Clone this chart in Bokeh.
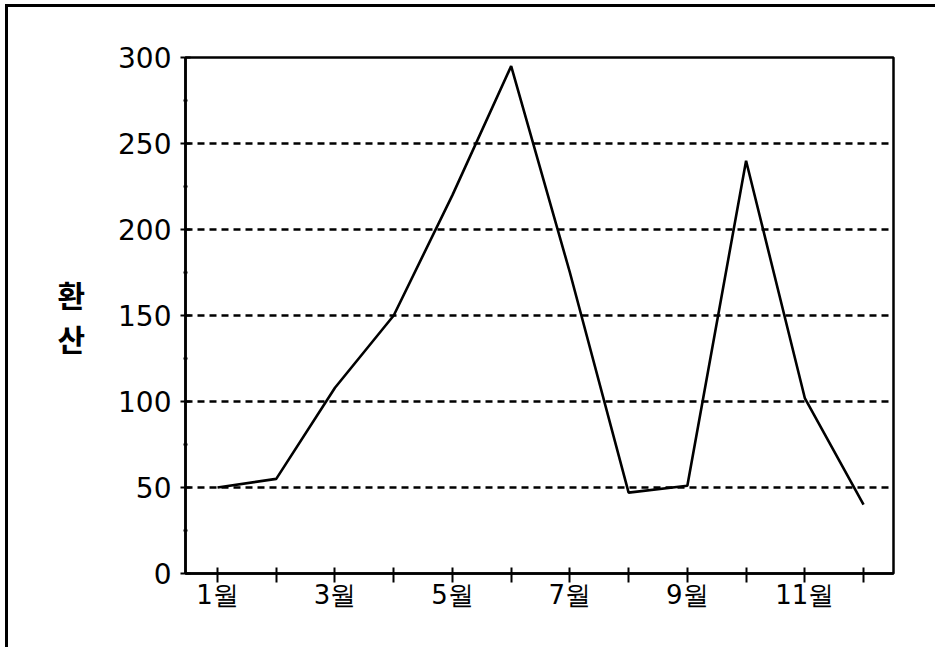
from bokeh.plotting import figure
from bokeh.models import Range1d, FixedTicker
from bokeh.embed import file_html
from bokeh.resources import INLINE

months = [1, 2, 3, 4, 5, 6, 7, 8, 9, 10, 11, 12]
month_labels = ["1월", "", "3월", "", "5월", "", "7월", "", "9월", "", "11월", ""]
values = [50, 55, 108, 150, 220, 295, 175, 47, 51, 240, 102, 40]
y_ticks = [0, 50, 100, 150, 200, 250, 300]
y_minor = [25, 75, 125, 175, 225, 275]
y_title = "환\n산"

p = figure(frame_width=708, frame_height=516,
           min_border_left=177, min_border_right=42,
           min_border_top=50, min_border_bottom=74,
           x_range=Range1d(0.455, 12.51), y_range=Range1d(0, 300),
           output_backend="svg", toolbar_location=None)
p.styles = {"border-left": "3px solid black", "border-top": "3px solid black",
            "margin-left": "5px", "margin-top": "4px"}

p.line(months, values, line_color="black", line_width=2.6)

p.outline_line_color = "black"
p.outline_line_width = 2.5
p.outline_line_alpha = 1

# x axis
xa = p.xaxis[0]
xa.ticker = FixedTicker(ticks=months)
xa.major_label_overrides = {m: lab for m, lab in zip(months, month_labels)}
xa.axis_line_width = 2.5
xa.axis_line_color = "black"
xa.major_tick_in = 6
xa.major_tick_out = 9
xa.major_tick_line_width = 2
xa.minor_tick_line_color = None
xa.major_label_standoff = -3
xa.major_label_text_font = "DejaVu Sans"
xa.major_label_text_font_size = "26px"
xa.major_label_text_color = "black"

# y axis
ya = p.yaxis[0]
ya.ticker = FixedTicker(ticks=y_ticks, minor_ticks=y_minor)
ya.axis_line_width = 2.5
ya.axis_line_color = "black"
ya.major_tick_in = 5
ya.major_tick_out = 5
ya.major_tick_line_width = 2
ya.minor_tick_in = 2
ya.minor_tick_out = 2
ya.minor_tick_line_width = 2
ya.minor_tick_line_color = "black"
ya.major_label_standoff = 9
ya.major_label_text_font = "DejaVu Sans"
ya.major_label_text_font_size = "28px"
ya.major_label_text_color = "black"
ya.axis_label = y_title
ya.axis_label_orientation = "horizontal"
ya.axis_label_standoff = 30
ya.axis_label_text_font = "Noto Sans CJK KR"
ya.axis_label_text_font_style = "bold"
ya.axis_label_text_font_size = "30px"
ya.axis_label_text_line_height = 1.0
ya.axis_label_text_color = "black"

p.xgrid.grid_line_color = None
p.ygrid.grid_line_color = "black"
p.ygrid.grid_line_width = 2.5
p.ygrid.grid_line_dash = "7 5"
p.ygrid.ticker = FixedTicker(ticks=[50, 100, 150, 200, 250])

open("out.html", "w").write(file_html(p, INLINE))
